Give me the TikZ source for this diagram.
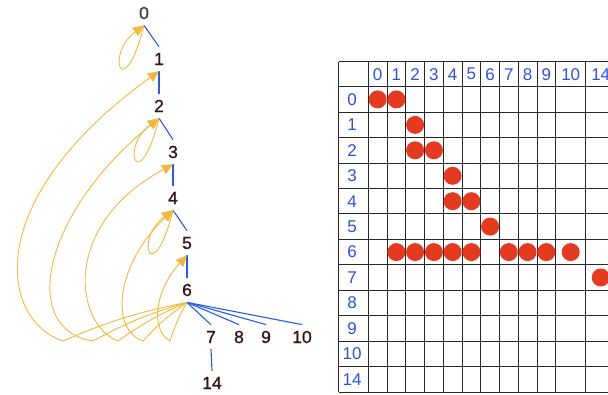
\documentclass[tikz,border=0pt]{standalone}
\usepackage{fontspec}
\setmainfont{Liberation Sans}
\newfontfamily\vertexfont[FakeBold=1]{Liberation Sans}
\usetikzlibrary{arrows.meta}
\definecolor{backyellow}{RGB}{242,184,58}
\definecolor{treeblue}{RGB}{40,90,240}
\definecolor{labelblue}{RGB}{45,80,230}
\definecolor{vertexbrown}{RGB}{60,20,20}
\definecolor{dotred}{RGB}{228,58,32}
\begin{document}
\begin{tikzpicture}[x=1pt,y=-1pt,
    vertex/.style={inner sep=6pt, text=vertexbrown, font=\vertexfont\fontsize{17.5}{17.5}\selectfont},
    treeedge/.style={treeblue, line width=1.1pt},
    backedge/.style={backyellow, line width=0.9pt, -{Triangle[length=11pt,width=10pt]}},
    cell/.style={inner sep=0pt, text=labelblue, font=\fontsize{17}{17}\selectfont},
    gridline/.style={black!85, line width=0.9pt},
    hit/.style={fill=dotred}]
  \clip (0,0) rectangle (608,395);
  \fill[white] (0,0) rectangle (608,395);

  % dfs tree
  \node[vertex, text=black!75] (n0) at (144,13) {0};
  \node[vertex] (n1) at (159,59) {1};
  \node[vertex] (n2) at (159,106) {2};
  \node[vertex] (n3) at (173,152) {3};
  \node[vertex] (n4) at (173,198) {4};
  \node[vertex] (n5) at (187,243) {5};
  \node[vertex] (n6) at (187,290) {6};
  \node[vertex] (n7) at (211,337) {7};
  \node[vertex] (n8) at (239,337) {8};
  \node[vertex] (n9) at (266,337) {9};
  \node[vertex] (n10) at (302,337) {10};
  \node[vertex] (n14) at (212,383) {14};
  \draw[treeedge] (n0.south) -- (n1.north);
  \draw[treeedge] (n1.south) -- (n2.north);
  \draw[treeedge] (n2.south) -- (n3.north);
  \draw[treeedge] (n3.south) -- (n4.north);
  \draw[treeedge] (n4.south) -- (n5.north);
  \draw[treeedge] (n5.south) -- (n6.north);
  \foreach \k in {7,8,9,10}
    \draw[treeedge] (n6.south) -- (n\k.north);
  \draw[treeedge] (n7.south) -- (n14.north);

  % back edges
  \foreach \k in {0,2,4}
    \draw[backedge] (n\k.south) .. controls +(-20,80) and +(-40,30) .. (n\k.south);
  \draw[backedge] (n6.south) to[bend right=6] (63,341) .. controls (0,320) and (-20,200) .. (n1.south);
  \draw[backedge] (n6.south) to[bend right=6] (93,341) .. controls (20,330) and (40,215) .. (n2.south);
  \draw[backedge] (n6.south) to[bend right=6] (118,341) .. controls (75,325) and (60,225) .. (n3.south);
  \draw[backedge] (n6.south) to[bend right=6] (143,341) .. controls (110,330) and (115,265) .. (n4.south);
  \draw[backedge] (n6.south) to[bend right=6] (170,341) .. controls (150,330) and (155,290) .. (n5.south);

  % matrix
  \foreach \x in {338.5,368.3,387.0,405.8,424.5,443.3,462.0,480.7,499.5,518.2,537.0,555.7,585.7,615.7}
    \draw[gridline] (\x,61.7) -- (\x,392);
  \foreach \y in {61.7,86.7,112.1,137.6,163.0,188.5,213.9,239.3,264.8,290.2,315.7,341.1,366.5,392.0}
    \draw[gridline] (338.5,\y) -- (615.7,\y);
  \foreach \lab/\cx in {0/377.7,1/396.4,2/415.1,3/433.9,4/452.6,5/471.4,6/490.1,7/508.8,8/527.6,9/546.3,10/570.7,14/600.7}
    \node[cell] (h\lab) at (\cx,74.2) {\lab};
  \foreach \lab/\cy in {0/99.4,1/124.9,2/150.3,3/175.8,4/201.2,5/226.6,6/252.1,7/277.5,8/303.0,9/328.4,10/353.8,14/379.3}
    \node[cell] (r\lab) at (352,\cy) {\lab};
  \foreach \c/\r in {0/0,1/0,2/1,2/2,3/2,4/3,4/4,5/4,6/5,1/6,2/6,3/6,4/6,5/6,7/6,8/6,9/6,10/6,14/7}
    \fill[hit] (h\c |- r\r) circle[radius=9pt];
\end{tikzpicture}
\end{document}
